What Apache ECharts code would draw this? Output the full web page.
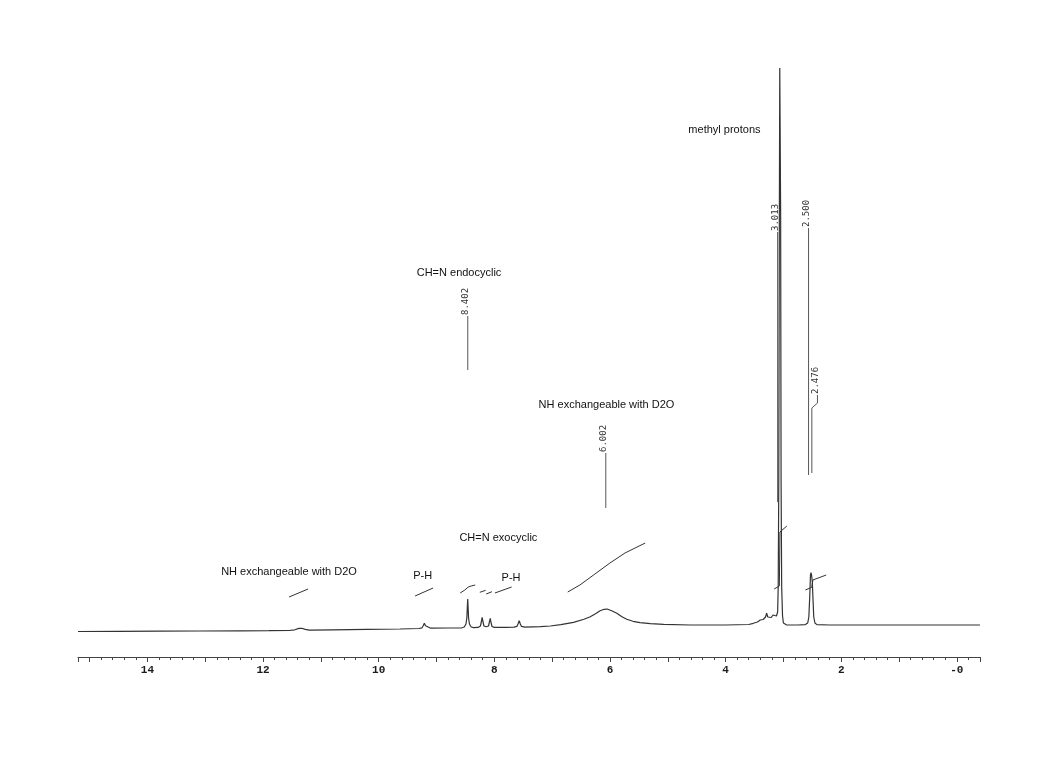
<!DOCTYPE html>
<html>
<head>
<meta charset="utf-8">
<script src="https://cdn.jsdelivr.net/npm/echarts@6/dist/echarts.min.js"></script>
<style>
html,body{margin:0;padding:0;background:#fff;}
#chart{width:1045px;height:766px;}
</style>
</head>
<body>
<div id="chart"></div>
<script>
// ---- Data (ppm, relative intensity) ----
const tickValues = [14, 12, 10, 8, 6, 4, 2, 0];
const tickLabels = ['14', '12', '10', '8', '6', '4', '2', '-0'];

const spectrum = [
  [15.2,0.5],[14.5,0.7],[13.8,0.8],[13.1,1],[12.4,1.2],[11.9,1.3],[11.55,1.5],[11.45,2.2],[11.38,3.6],[11.33,3.7],[11.27,2.6],[11.2,1.8],
  [10.8,2.2],[10.2,2.6],[9.63,3],[9.3,3.5],[9.25,4.2],[9.23,6.3],[9.21,8.7],[9.19,6.3],[9.17,4.3],[9.1,3.8],[8.8,4],
  [8.56,4.2],[8.52,5],[8.49,8],[8.475,14],[8.465,27],[8.46,33],[8.455,27],[8.445,14],[8.43,8],[8.40,5],[8.36,4.4],
  [8.28,4.6],[8.24,6],[8.225,10],[8.21,14.7],[8.195,10],[8.18,6],[8.14,5.2],[8.10,6],[8.085,10],[8.07,13.7],[8.055,9],[8.04,5.5],[8.0,4.6],
  [7.8,4.6],[7.66,4.8],[7.61,5.6],[7.59,8],[7.57,11.3],[7.55,8],[7.53,5.6],[7.47,4.8],
  [7.2,5.3],[7.03,6],[6.85,7.3],[6.63,9.7],[6.45,12.8],[6.34,15.3],[6.25,18.2],[6.17,21.3],[6.1,22.7],[6.05,23],[5.98,21.5],[5.88,18.7],
  [5.8,15.5],[5.71,12.7],[5.6,10.7],[5.48,9.3],[5.3,8.3],[5.07,7.7],[4.61,7],[4.0,7],[3.6,7.5],
  [3.52,8.7],[3.45,10],[3.40,12],[3.35,12.5],[3.31,15],[3.29,18.7],[3.27,15],[3.24,16.5],[3.21,14.5],[3.18,17],[3.15,15],[3.12,16],
  [3.10,20],[3.09,45],[3.08,150],[3.07,420],[3.063,564],[3.055,564],[3.048,420],[3.04,150],[3.03,45],[3.015,16],[3.0,9],[2.95,7.2],
  [2.75,7],[2.62,7.4],[2.58,9],[2.56,15],[2.545,35],[2.532,57],[2.522,59.3],[2.512,56.5],[2.50,50],[2.49,35],[2.475,15],[2.455,9],[2.42,7.4],
  [2.2,7],[1.0,7],[-0.4,7]
];

const integralCurves = [
  [[11.55,35],[11.22,43]],
  [[9.37,36],[9.06,44]],
  [[8.59,39],[8.51,42],[8.45,45],[8.40,46],[8.33,47]],
  [[8.25,39.7],[8.15,41.7]],
  [[8.14,38],[8.04,40.3]],
  [[7.99,39],[7.70,45]],
  [[6.73,40],[6.52,47],[6.26,58],[6.00,69],[5.74,79],[5.39,89]],
  [[3.16,43],[3.07,46],[3.06,100],[3.04,102],[2.94,106]],
  [[2.62,42],[2.51,44.7],[2.49,52],[2.26,57]]
];

const peakLabelTexts = ['8.402', '6.002', '3.013', '2.500', '2.476'];
const peakLabelPpm = [8.459, 6.072, 3.10, 2.565, 2.411];
const peakLabelBase = [316, 179, 400, 404, 237];
const peakLeaders = [
  [[8.459,316],[8.459,262]],
  [[6.072,179],[6.072,124]],
  [[3.10,400],[3.10,130]],
  [[2.565,404],[2.565,157]],
  [[2.411,237],[2.411,229],[2.508,224],[2.508,159]]
];

const annotationTexts = ['methyl protons', 'CH=N endocyclic', 'NH exchangeable with D2O', 'CH=N exocyclic', 'NH exchangeable with D2O', 'P-H', 'P-H'];
const annotationPpm = [4.02, 8.61, 6.06, 7.93, 11.55, 9.24, 7.71];
const annotationInt = [502, 359, 227, 94, 60, 56, 54];

// ---- Chart ----
const chart = echarts.init(document.getElementById('chart'), null, {renderer: 'canvas'});
const inkColor = '#333';

const series = [];
series.push({
  type: 'line', name: 'spectrum', data: spectrum, showSymbol: false, symbol: 'none',
  lineStyle: {color: inkColor, width: 1.2}, z: 5, animation: false
});
integralCurves.forEach(c => series.push({
  type: 'line', data: c, showSymbol: false, symbol: 'none', smooth: false,
  lineStyle: {color: inkColor, width: 1}, z: 4, animation: false
}));
peakLeaders.forEach(c => series.push({
  type: 'line', data: c, showSymbol: false, symbol: 'none',
  lineStyle: {color: '#444', width: 0.9}, z: 4, animation: false
}));
series.push({
  type: 'custom', name: 'peakLabels',
  data: peakLabelPpm.map((p, i) => [p, peakLabelBase[i]]),
  renderItem: (params, api) => {
    const pt = api.coord([api.value(0), api.value(1)]);
    return {
      type: 'text', x: pt[0] - 2, y: pt[1] - 1, rotation: Math.PI / 2,
      style: {text: peakLabelTexts[params.dataIndex], font: '9px "DejaVu Sans Mono"', fill: '#333', align: 'left', verticalAlign: 'middle'}
    };
  },
  z: 6, animation: false
});
series.push({
  type: 'custom', name: 'annotations',
  data: annotationPpm.map((p, i) => [p, annotationInt[i]]),
  renderItem: (params, api) => {
    const pt = api.coord([api.value(0), api.value(1)]);
    return {
      type: 'text', x: pt[0], y: pt[1],
      style: {text: annotationTexts[params.dataIndex], font: '11px "Liberation Sans", Arial, sans-serif', fill: '#111', align: 'center', verticalAlign: 'middle'}
    };
  },
  z: 6, animation: false
});

chart.setOption({
  backgroundColor: '#ffffff',
  animation: false,
  grid: {left: 78, right: 65, top: 57, bottom: 109, containLabel: false},
  xAxis: [
    {
      type: 'value', inverse: true, min: -0.4, max: 15.2,
      minInterval: 1, maxInterval: 1, splitNumber: 16,
      position: 'bottom', offset: 0,
      axisLine: {show: true, onZero: false, lineStyle: {color: '#444', width: 1}},
      axisTick: {show: true, length: 5, lineStyle: {color: '#444', width: 1}},
      splitLine: {show: false},
      axisLabel: {
        show: true, margin: 8, color: '#1a1a1a',
        fontFamily: '"Liberation Mono", monospace', fontWeight: 'bold', fontSize: 11,
        showMinLabel: true, showMaxLabel: true,
        formatter: v => {
          const k = tickValues.findIndex(t => Math.abs(t - v) < 1e-6);
          return k >= 0 ? tickLabels[k] : '';
        }
      }
    },
    {
      type: 'value', inverse: true, min: -0.4, max: 15.2, interval: 0.2,
      position: 'bottom', offset: 0,
      axisLine: {show: false, onZero: false},
      axisTick: {show: true, length: 3, lineStyle: {color: '#444', width: 1}},
      splitLine: {show: false},
      axisLabel: {show: false}
    }
  ],
  yAxis: {type: 'value', min: -25, max: 575, show: false, splitLine: {show: false}},
  series: series
});
</script>
</body>
</html>
